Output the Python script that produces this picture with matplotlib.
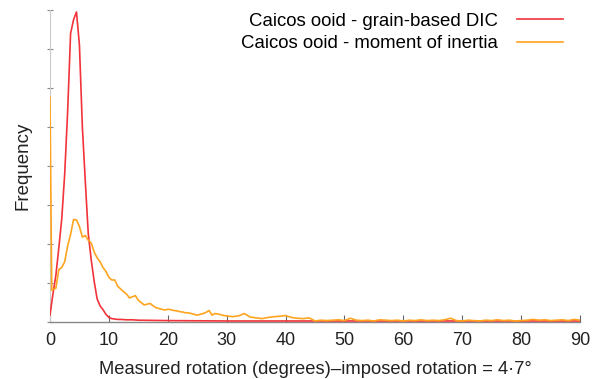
import matplotlib
matplotlib.use('Agg')
import matplotlib.pyplot as plt

plt.rcParams['font.family'] = ['Liberation Sans', 'DejaVu Sans']

# Data
dic_x = [0, 0.5, 1.0, 1.5, 2.0, 2.5, 3.0, 3.5, 4.0, 4.5, 5.0, 5.5, 6.0, 6.5, 7.0,
         7.5, 8.0, 8.5, 9.0, 9.5, 10.0, 10.5, 11.0, 11.5, 12.0, 13.0, 14.0, 15.0,
         20.0, 30.0, 40.0, 50.0, 60.0, 70.0, 80.0, 90.0]
dic_y = [0.18, 0.72, 1.2, 1.9, 2.65, 3.8, 5.4, 7.4, 7.75, 7.95, 7.1, 5.0, 3.6, 2.27, 1.6,
         1.05, 0.6, 0.42, 0.32, 0.2, 0.12, 0.09, 0.08, 0.07, 0.07, 0.06, 0.06, 0.05,
         0.04, 0.03, 0.03, 0.03, 0.03, 0.03, 0.03, 0.03]

moi_x = [0, 0.3, 1.0, 1.5, 2.0, 2.5, 3.0, 3.5, 4.0, 4.5, 5.0, 5.5, 6.0, 6.5, 7.0,
         7.5, 8.0, 8.5, 9.0, 9.5, 10.0, 10.5, 11.0, 11.5, 12.0, 12.5, 13.0, 13.5,
         14.0, 14.5, 15.0, 15.5, 16.0, 16.5, 17.0, 17.5, 18.0, 18.5, 19.0, 19.5,
         20.0, 20.5, 21.0, 21.5, 22.0, 22.5, 23.0, 23.5, 24.0, 24.5, 25.0, 25.5,
         26.0, 26.5, 27.0, 27.5, 28.0, 28.5, 29.0, 29.5, 30.0,
         31, 32, 33, 34, 35, 36, 37, 38, 39, 40, 41, 42, 43, 44, 45, 46, 47, 48,
         49, 50, 51, 52, 53, 54, 55, 56, 57, 58, 59, 60, 61, 62, 63, 64, 65, 66,
         67, 68, 69, 70, 71, 72, 73, 74, 75, 76, 77, 78, 79, 80, 81, 82, 83, 84,
         85, 86, 87, 88, 89, 90]
moi_y = [5.77, 0.82, 0.87, 1.35, 1.40, 1.55, 1.95, 2.25, 2.63, 2.62, 2.45, 2.18, 2.22,
         2.10, 2.03, 1.80, 1.65, 1.55, 1.40, 1.30, 1.15, 1.08, 1.08, 0.92, 0.85, 0.78,
         0.72, 0.62, 0.65, 0.68, 0.56, 0.50, 0.44, 0.46, 0.48, 0.42, 0.37, 0.35, 0.33,
         0.31, 0.33, 0.32, 0.30, 0.29, 0.27, 0.26, 0.24, 0.24, 0.22, 0.20, 0.18, 0.20,
         0.22, 0.25, 0.30, 0.18, 0.22, 0.21, 0.19, 0.17, 0.16,
         0.14, 0.16, 0.22, 0.13, 0.11, 0.09, 0.12, 0.14, 0.15, 0.17, 0.12, 0.10, 0.09,
         0.11, 0.03, 0.05, 0.04, 0.05, 0.06, 0.04, 0.10, 0.05, 0.04, 0.05, 0.03, 0.06,
         0.05, 0.04, 0.05, 0.03, 0.05, 0.04, 0.06, 0.04, 0.05, 0.04, 0.06, 0.10, 0.04,
         0.03, 0.05, 0.04, 0.03, 0.05, 0.04, 0.06, 0.04, 0.05, 0.03, 0.04, 0.05, 0.07,
         0.05, 0.06, 0.04, 0.05, 0.06, 0.04, 0.07, 0.05]

x_ticks = [0, 10, 20, 30, 40, 50, 60, 70, 80, 90]
y_ticks = [0, 1, 2, 3, 4, 5, 6, 7, 8]

red = '#f2333a'
orange = '#ffa41f'

fig = plt.figure(figsize=(6.0, 3.79), dpi=100, facecolor='white')
ax = fig.add_axes([0.0833, 0.150, 0.8834, 0.8236])

ax.plot(dic_x, dic_y, color=red, lw=1.2, label='Caicos ooid - grain-based DIC', zorder=3)
ax.plot(moi_x, moi_y, color=orange, lw=1.2, label='Caicos ooid - moment of inertia', zorder=4)

ax.set_xlim(0, 90)
ax.set_ylim(0, 8)
ax.set_xticks(x_ticks)
ax.set_yticks(y_ticks)
ax.set_yticklabels([])
ax.tick_params(axis='x', direction='in', length=5, width=0.8, color='#666666',
               labelsize=13, pad=7, labelcolor='#222222')
ax.tick_params(axis='y', direction='inout', length=4, width=0.8, color='#888888')

for s in ['top', 'right']:
    ax.spines[s].set_visible(False)
ax.spines['left'].set_color('#cccccc')
ax.spines['left'].set_linewidth(0.8)
ax.spines['bottom'].set_color('#888888')
ax.spines['bottom'].set_linewidth(1.0)

ax.set_xlabel('Measured rotation (degrees)\u2013imposed rotation = 4\u00b77\u00b0',
              fontsize=13.2, color='#222222', labelpad=9)
ax.set_ylabel('Frequency', fontsize=13.5, color='#222222', labelpad=8)

ax.legend(loc='upper right', bbox_to_anchor=(1.0, 1.045), frameon=False,
          markerfirst=False, fontsize=13.4, handlelength=2.5, handletextpad=1.0,
          labelspacing=0.3)

fig.savefig('out.png', dpi=100, facecolor='white')
